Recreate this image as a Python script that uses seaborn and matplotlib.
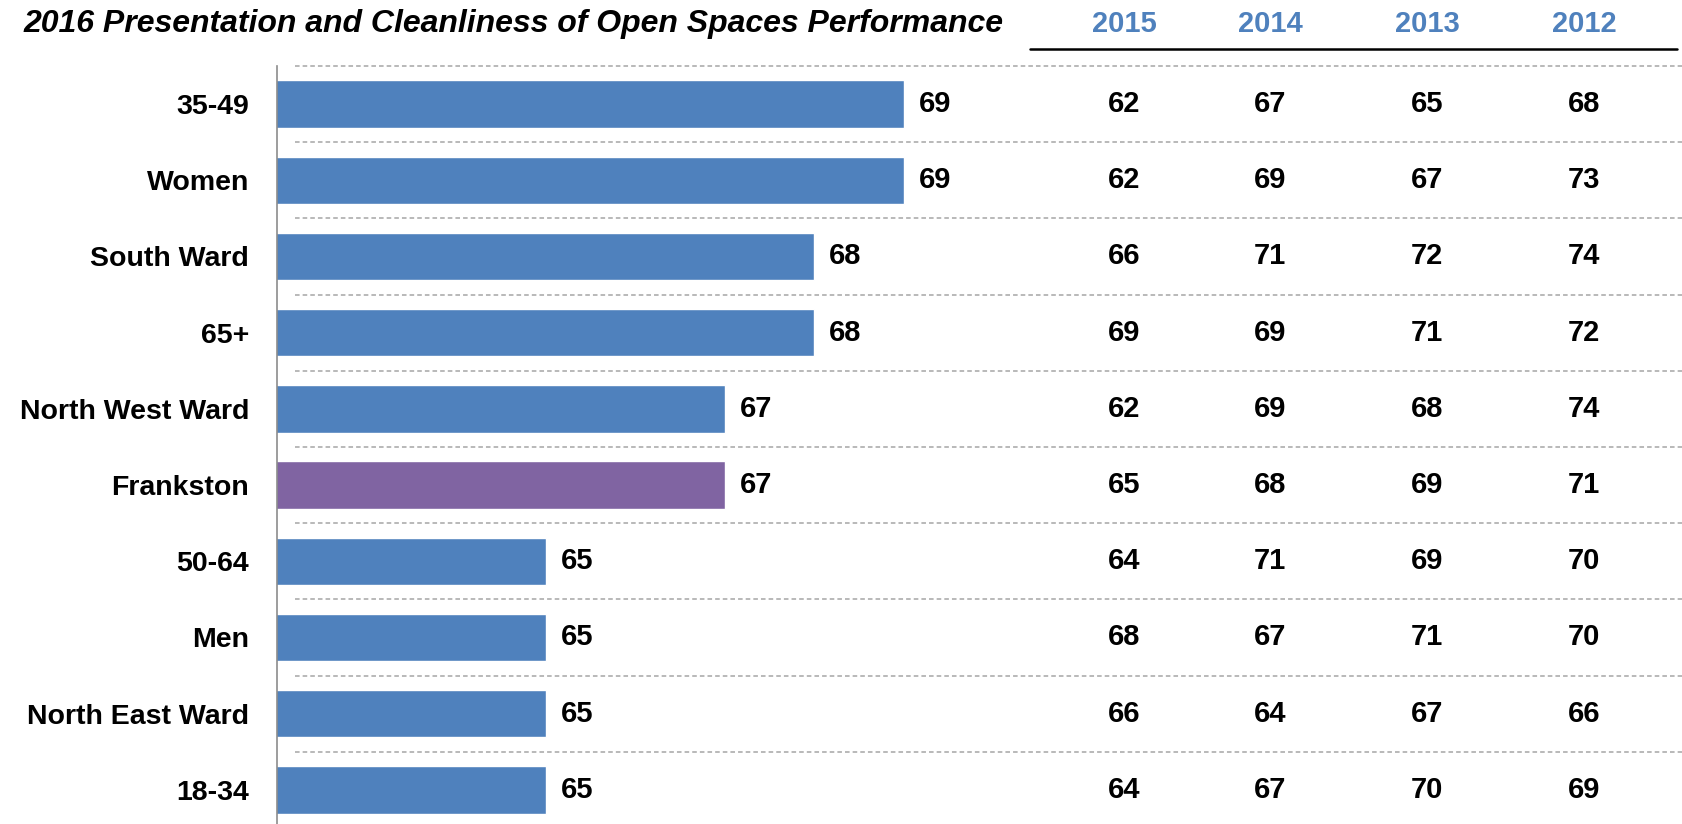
import numpy as np
import pandas as pd
import seaborn as sns
import matplotlib.pyplot as plt
import matplotlib.transforms as mtransforms

sns.set_style('white')
plt.rcParams['font.family'] = ['Liberation Sans', 'DejaVu Sans']
plt.rcParams['text.color'] = 'black'

BLUE = '#4F81BD'
PURPLE = '#8064A2'

categories = ['35-49', 'Women', 'South Ward', '65+', 'North West Ward',
              'Frankston', '50-64', 'Men', 'North East Ward', '18-34']
score_2016 = [69, 69, 68, 68, 67, 67, 65, 65, 65, 65]
score_2015 = [62, 62, 66, 69, 62, 65, 64, 68, 66, 64]
score_2014 = [67, 69, 71, 69, 69, 68, 71, 67, 64, 67]
score_2013 = [65, 67, 72, 71, 68, 69, 69, 71, 67, 70]
score_2012 = [68, 73, 74, 72, 74, 71, 70, 70, 66, 69]
years = ['2015', '2014', '2013', '2012']
highlight = 'Frankston'

df = pd.DataFrame({'group': categories, 'score': score_2016})
palette = {c: (PURPLE if c == highlight else BLUE) for c in categories}

W, H = 1683, 824
FS = 21
px_per_unit = 89.5
fig = plt.figure(figsize=(W / 100, H / 100), dpi=100)
# axes runs a little off the bottom of the figure, like the cropped original
ax = fig.add_axes([277 / W, 1 - 828 / H, (W - 277) / W, (828 - 66) / H])

sns.barplot(data=df, x='score', y='group', hue='group', palette=palette,
            legend=False, orient='h', width=0.62, ax=ax, saturation=1)

xmax = 62 + (W - 277) / px_per_unit
ax.set_xlim(62, xmax)
ax.set_ylim(len(categories) - 0.5, -0.5)
ax.set_xlabel('')
ax.set_ylabel('')
ax.set_xticks([])

for s in ['top', 'right', 'bottom']:
    ax.spines[s].set_visible(False)
ax.spines['left'].set_color('#8c8c8c')
ax.spines['left'].set_linewidth(1.2)

ax.tick_params(axis='y', which='major', length=0, pad=20)
ax.set_yticks(np.arange(len(categories) + 1) - 0.5, minor=True)
ax.tick_params(axis='y', which='minor', length=6, color='#8c8c8c', direction='out')
for lab in ax.get_yticklabels():
    lab.set_fontsize(20.5)
    lab.set_fontweight('bold')
    lab.set_color('black')

# dashed separators
for i in range(len(categories)):
    ax.plot([62.2, xmax], [i - 0.5, i - 0.5], ls=(0, (3, 2)),
            color='#a6a6a6', lw=1.1, clip_on=False, zorder=0)

for i, v in enumerate(score_2016):
    ax.annotate(str(v), (v, i), xytext=(11, 0), textcoords='offset points',
                va='center', ha='left', fontsize=FS, fontweight='bold',
                color='black')

# table of previous years
col_x = [1124, 1270, 1427, 1584]
trans = mtransforms.blended_transform_factory(fig.transFigure, ax.transData)
for cx, col in zip(col_x, [score_2015, score_2014, score_2013, score_2012]):
    for i, v in enumerate(col):
        ax.text(cx / W, i, str(v), transform=trans, ha='center', va='center',
                fontsize=FS, fontweight='bold', color='black')

for cx, yr in zip(col_x, years):
    fig.text(cx / W, 1 - 24 / H, yr, ha='center', va='center', fontsize=FS,
             fontweight='bold', color=BLUE)

fig.add_artist(plt.Line2D([1030 / W, 1677 / W], [1 - 49 / H, 1 - 49 / H],
                          color='black', lw=1.8))

fig.text(24 / W, 1 - 24 / H, '2016 Presentation and Cleanliness of Open Spaces Performance',
         ha='left', va='center', fontsize=23, fontweight='bold', style='italic',
         color='black')

fig.savefig('out.png', dpi=100)
